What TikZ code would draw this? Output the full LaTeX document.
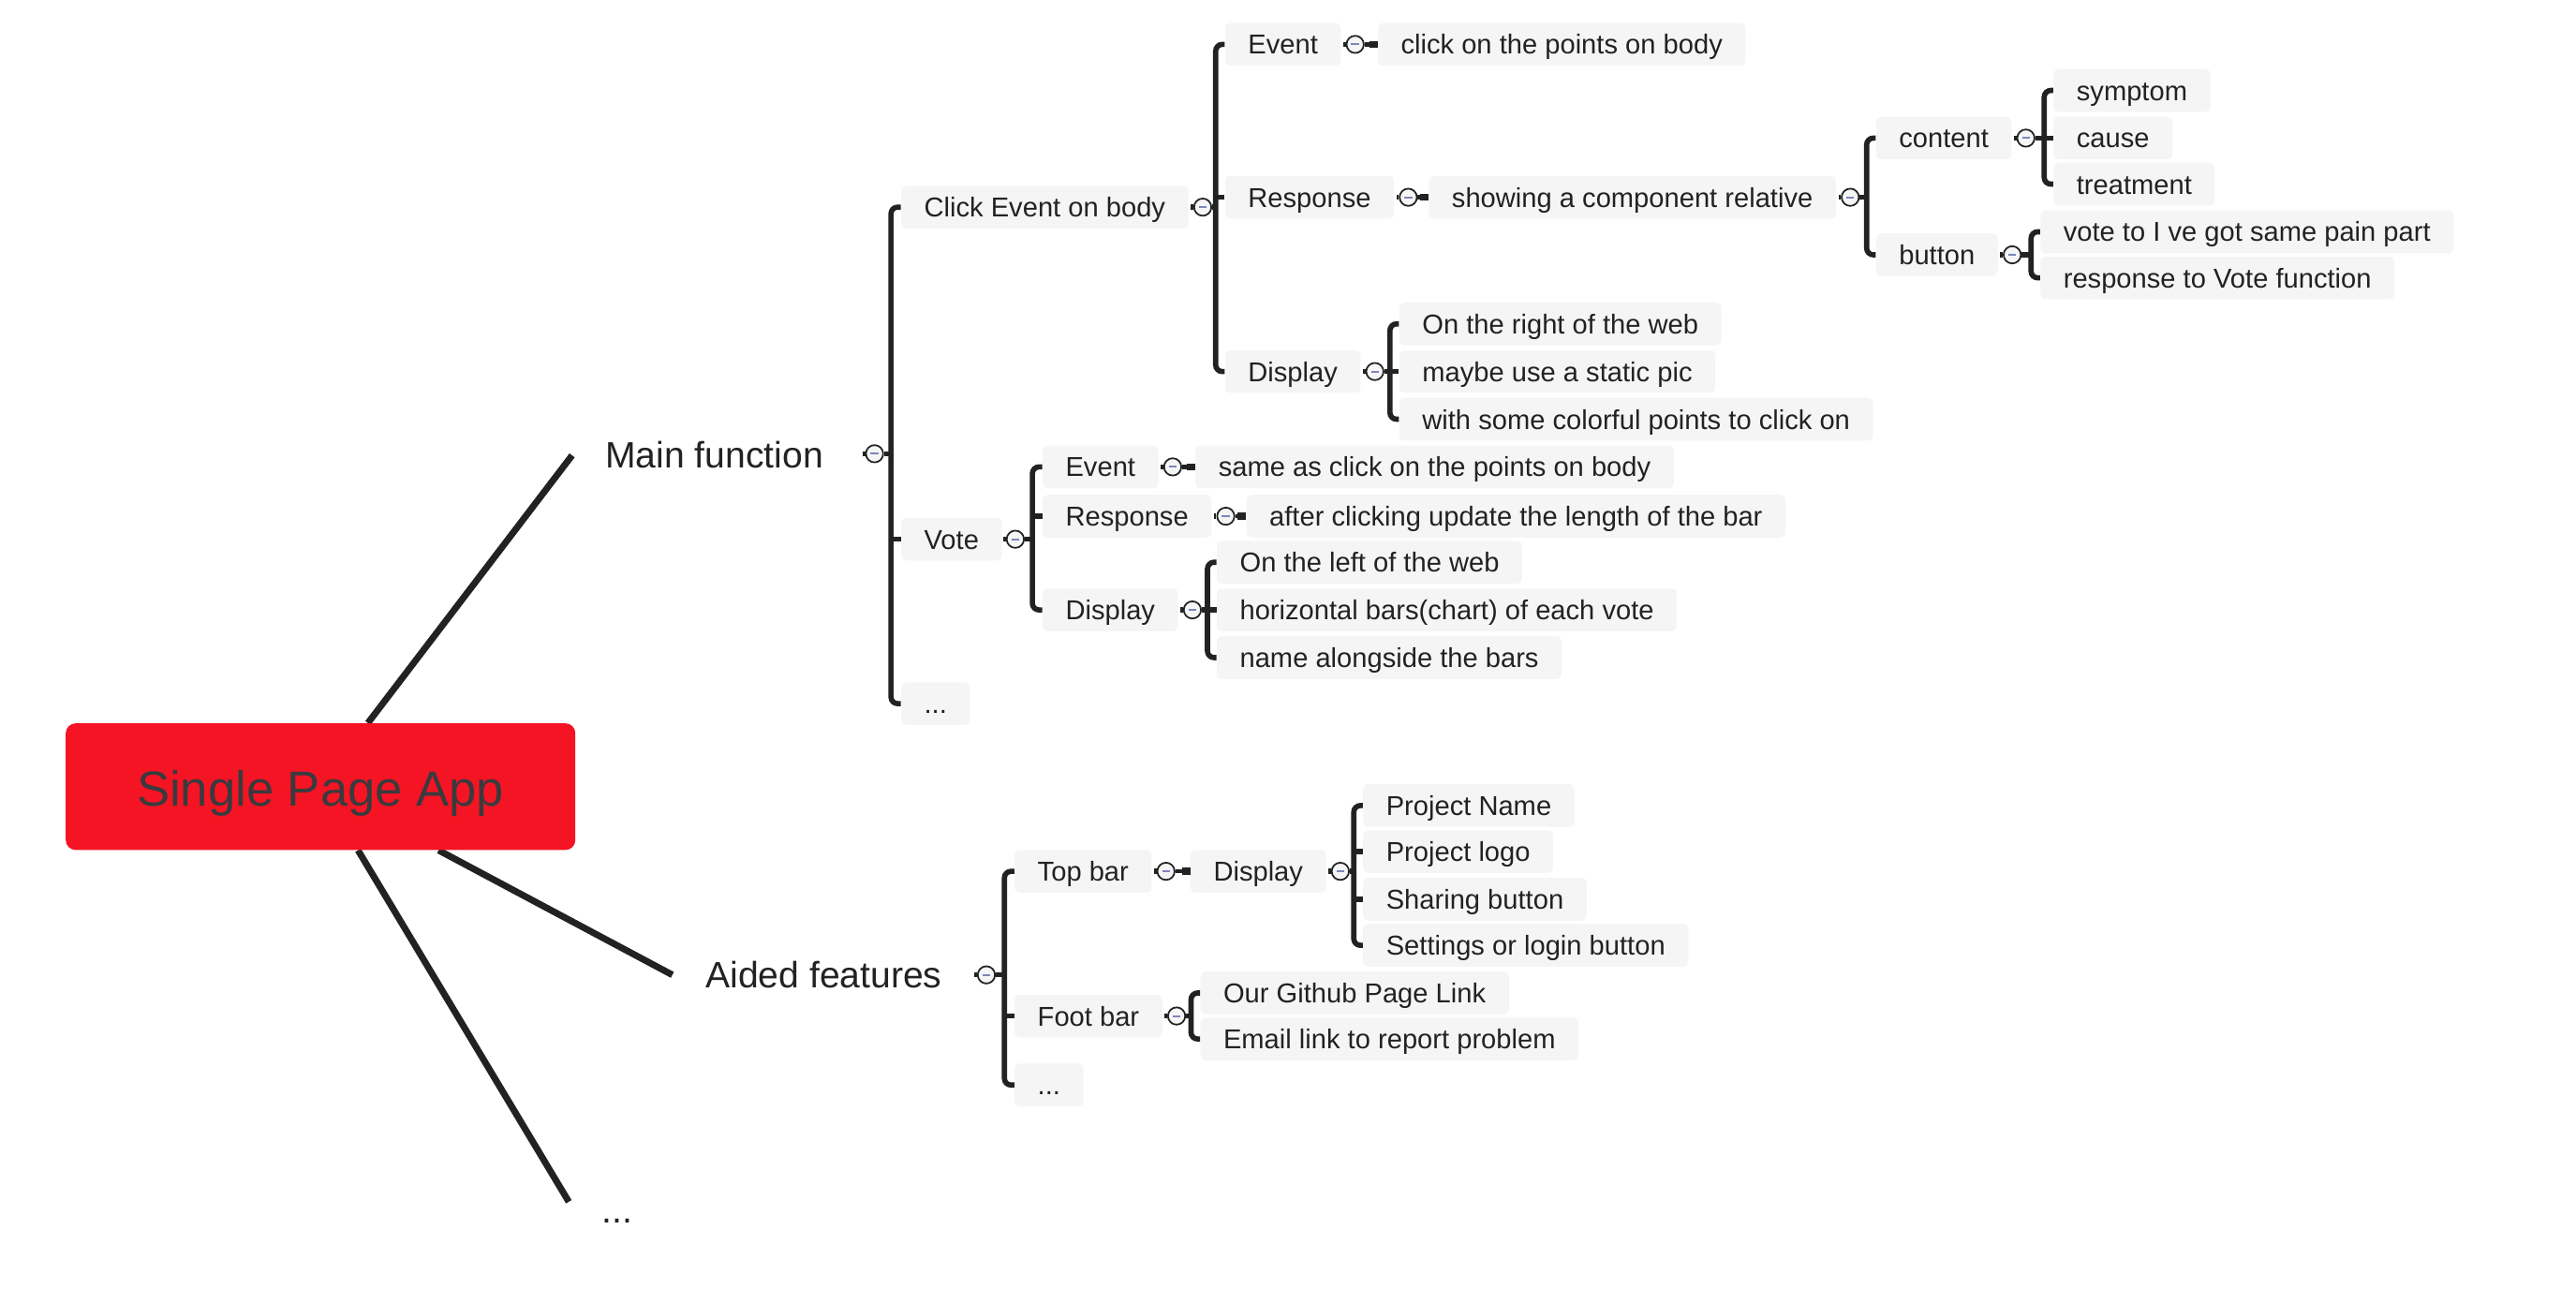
\documentclass[tikz,border=0pt]{standalone}
\usepackage{fontspec}
\setmainfont{Liberation Sans}
\usetikzlibrary{calc,backgrounds}
\definecolor{rootred}{RGB}{245,20,35}
\definecolor{boxgray}{RGB}{245,245,245}
\definecolor{ink}{RGB}{34,34,34}
\definecolor{minusblue}{RGB}{125,132,190}
\definecolor{roottext}{RGB}{58,58,62}
\tikzset{
 mmbox/.style={fill=boxgray, rounded corners=3pt, anchor=west, inner xsep=14pt, inner ysep=3.5pt, text height=15.5pt, text depth=3.5pt, text=ink, font=\fontsize{16.6}{20}\selectfont},
 topic/.style={anchor=west, inner xsep=20pt, inner ysep=2pt, text height=20pt, text depth=4.7pt, text=ink, font=\fontsize{22.3}{26}\selectfont},
 rootbox/.style={fill=rootred, rounded corners=6pt, minimum width=310pt, minimum height=77pt, text height=29.5pt, text depth=6.3pt, text=roottext, font=\fontsize{30}{36}\selectfont, inner sep=0pt},
 rootline/.style={draw=ink, line width=4pt},
 brline/.style={draw=ink, line width=3.2pt, rounded corners=4pt},
 keyline/.style={draw=ink, line width=2.6pt},
 keyend/.style={draw=ink, line width=4.2pt},
 stub/.style={draw=ink, line width=3pt},
 tog/.style={circle, draw=ink, line width=1pt, fill=boxgray, minimum size=10.5pt, inner sep=0pt,
   path picture={\draw[minusblue, line width=1.1pt] ($(path picture bounding box.center)+(-2.4,0)$) -- ($(path picture bounding box.center)+(2.4,0)$);}},
}
\begin{document}
\begin{tikzpicture}[x=1pt,y=-1pt]
\useasboundingbox (0,0) rectangle (1567,784);
% root and first level
\node[rootbox] (root) at (195,478.5) {Single Page App};
\node[topic] (main) at (348,277) {Main function};
\node[topic] (aided) at (409,593) {Aided features};
\node[topic] (more) at (346,736) {...};
\begin{scope}[on background layer]
\draw[rootline] ($(root.north west)+(184,0)$) -- (main.west);
\draw[rootline] ($(root.south west)+(227,0)$) -- (aided.west);
\draw[rootline] ($(root.south west)+(178,0)$) -- ($(more.west)+(0,-5)$);
\end{scope}

% Main function
\node[mmbox] (click) at (548,126) {Click Event on body};
\node[mmbox] (vote) at (548,328) {Vote};
\node[mmbox] (mdots) at (548,428) {...};
\coordinate (bxM) at ($(click.west)+(-6,0)$);
\draw[brline] (click.west) -- (bxM) |- (mdots.west);
\draw[brline] (vote.west) -- ++(-6,0);
\node[tog] (cMain) at (532,276) {};
\draw[brline] (cMain.east) -- (cMain.east -| bxM);

% Click Event on body
\node[mmbox] (ev1) at (745,27) {Event};
\node[mmbox] (resp1) at (745,120) {Response};
\node[mmbox] (disp1) at (745,226) {Display};
\coordinate (bxC) at ($(ev1.west)+(-5.5,0)$);
\draw[brline] (ev1.west) -- (bxC) |- (disp1.west);
\draw[brline] (resp1.west) -- ++(-5.5,0);
\node[tog] (cClick) at ($(click.east)+(8.5,0)$) {};
\draw[brline] (cClick.east) -- (cClick.east -| bxC);

\node[tog] (cEv1) at ($(ev1.east)+(8.5,0)$) {};
\node[mmbox] (ev1r) at (838,27) {click on the points on body};
\draw[keyline] (cEv1.east) -- (ev1r.west);
\draw[keyend] ($(ev1r.west)+(-5,0)$) -- (ev1r.west);

\node[tog] (cResp1) at ($(resp1.east)+(8.5,0)$) {};
\node[mmbox] (show) at (869,120) {showing a component relative};
\draw[keyline] (cResp1.east) -- (show.west);
\draw[keyend] ($(show.west)+(-5,0)$) -- (show.west);

\node[mmbox] (content) at (1141,84) {content};
\node[mmbox] (button) at (1141,155) {button};
\coordinate (bxS) at ($(content.west)+(-5.5,0)$);
\draw[brline] (content.west) -- (bxS) |- (button.west);
\node[tog] (cShow) at ($(show.east)+(8.5,0)$) {};
\draw[brline] (cShow.east) -- (cShow.east -| bxS);

\node[mmbox] (sym) at (1249,55) {symptom};
\node[mmbox] (cause) at (1249,84) {cause};
\node[mmbox] (treat) at (1249,112) {treatment};
\coordinate (bxCo) at ($(sym.west)+(-5.5,0)$);
\draw[brline] (sym.west) -- (bxCo) |- (treat.west);
\draw[brline] (cause.west) -- ++(-5.5,0);
\node[tog] (cContent) at ($(content.east)+(8.5,0)$) {};
\draw[brline] (cContent.east) -- (cContent.east -| bxCo);

\node[mmbox] (vt) at (1241,141) {vote to I ve got same pain part};
\node[mmbox] (rv) at (1241,169) {response to Vote function};
\coordinate (bxB) at ($(vt.west)+(-5.5,0)$);
\draw[brline] (vt.west) -- (bxB) |- (rv.west);
\node[tog] (cButton) at ($(button.east)+(8.5,0)$) {};
\draw[brline] (cButton.east) -- (cButton.east -| bxB);

\node[mmbox] (d1a) at (851,197) {On the right of the web};
\node[mmbox] (d1b) at (851,226) {maybe use a static pic};
\node[mmbox] (d1c) at (851,255) {with some colorful points to click on};
\coordinate (bxD1) at ($(d1a.west)+(-5.5,0)$);
\draw[brline] (d1a.west) -- (bxD1) |- (d1c.west);
\draw[brline] (d1b.west) -- ++(-5.5,0);
\node[tog] (cDisp1) at ($(disp1.east)+(8.5,0)$) {};
\draw[brline] (cDisp1.east) -- (cDisp1.east -| bxD1);

% Vote
\node[mmbox] (ev2) at (634,284) {Event};
\node[mmbox] (resp2) at (634,314) {Response};
\node[mmbox] (disp2) at (634,371) {Display};
\coordinate (bxV) at ($(ev2.west)+(-6,0)$);
\draw[brline] (ev2.west) -- (bxV) |- (disp2.west);
\draw[brline] (resp2.west) -- ++(-6,0);
\node[tog] (cVote) at ($(vote.east)+(8,0)$) {};
\draw[brline] (cVote.east) -- (cVote.east -| bxV);

\node[tog] (cEv2) at ($(ev2.east)+(8.5,0)$) {};
\node[mmbox] (ev2r) at (727,284) {same as click on the points on body};
\draw[keyline] (cEv2.east) -- (ev2r.west);
\draw[keyend] ($(ev2r.west)+(-5,0)$) -- (ev2r.west);

\node[tog] (cResp2) at ($(resp2.east)+(8.5,0)$) {};
\node[mmbox] (resp2r) at (758,314) {after clicking update the length of the bar};
\draw[keyline] (cResp2.east) -- (resp2r.west);
\draw[keyend] ($(resp2r.west)+(-5,0)$) -- (resp2r.west);

\node[mmbox] (d2a) at (740,342) {On the left of the web};
\node[mmbox] (d2b) at (740,371) {horizontal bars(chart) of each vote};
\node[mmbox] (d2c) at (740,400) {name alongside the bars};
\coordinate (bxD2) at ($(d2a.west)+(-5.5,0)$);
\draw[brline] (d2a.west) -- (bxD2) |- (d2c.west);
\draw[brline] (d2b.west) -- ++(-5.5,0);
\node[tog] (cDisp2) at ($(disp2.east)+(8.5,0)$) {};
\draw[brline] (cDisp2.east) -- (cDisp2.east -| bxD2);

% Aided features
\node[mmbox] (top) at (617,530) {Top bar};
\node[mmbox] (foot) at (617,618) {Foot bar};
\node[mmbox] (adots) at (617,660) {...};
\coordinate (bxA) at ($(top.west)+(-6,0)$);
\draw[brline] (top.west) -- (bxA) |- (adots.west);
\draw[brline] (foot.west) -- ++(-6,0);
\node[tog] (cAided) at (600,593) {};
\draw[brline] (cAided.east) -- (cAided.east -| bxA);

\node[tog] (cTop) at ($(top.east)+(8.5,0)$) {};
\node[mmbox] (topd) at (724,530) {Display};
\draw[keyline] (cTop.east) -- (topd.west);
\draw[keyend] ($(topd.west)+(-5,0)$) -- (topd.west);

\node[mmbox] (p1) at (829,490) {Project Name};
\node[mmbox] (p2) at (829,518) {Project logo};
\node[mmbox] (p3) at (829,547) {Sharing button};
\node[mmbox] (p4) at (829,575) {Settings or login button};
\coordinate (bxP) at ($(p1.west)+(-5.5,0)$);
\draw[brline] (p1.west) -- (bxP) |- (p4.west);
\draw[brline] (p2.west) -- ++(-5.5,0);
\draw[brline] (p3.west) -- ++(-5.5,0);
\node[tog] (cTopd) at ($(topd.east)+(8.5,0)$) {};
\draw[brline] (cTopd.east) -- (cTopd.east -| bxP);

\node[mmbox] (f1) at (730,604) {Our Github Page Link};
\node[mmbox] (f2) at (730,632) {Email link to report problem};
\coordinate (bxF) at ($(f1.west)+(-5.5,0)$);
\draw[brline] (f1.west) -- (bxF) |- (f2.west);
\node[tog] (cFoot) at ($(foot.east)+(8.5,0)$) {};
\draw[brline] (cFoot.east) -- (cFoot.east -| bxF);

% small stubs on the left of each toggle
\foreach \c in {cMain,cClick,cEv1,cResp1,cShow,cContent,cButton,cDisp1,cVote,cEv2,cResp2,cDisp2,cAided,cTop,cTopd,cFoot}{
  \draw[stub] (\c.west) -- ++(-1.5,0);
}
\end{tikzpicture}
\end{document}
